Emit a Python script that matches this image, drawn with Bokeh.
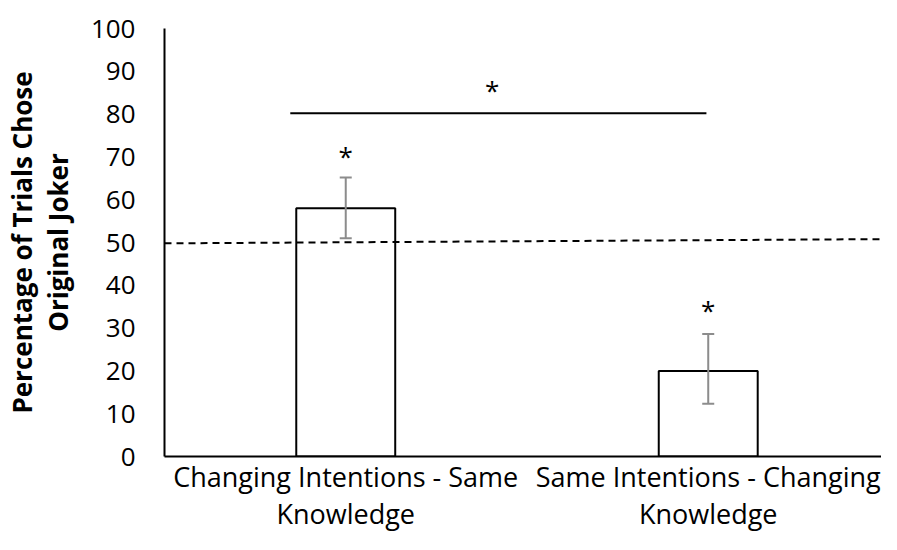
from bokeh.plotting import figure
from bokeh.models import Range1d, FixedTicker, Whisker, ColumnDataSource, TeeHead
from bokeh.core.properties import value
from bokeh.embed import file_html
from bokeh.resources import INLINE

# ---- data ----
categories = ["Changing Intentions - Same\nKnowledge", "Same Intentions - Changing\nKnowledge"]
cat_x = [0.5, 1.5]
values = [58, 20]
err_upper = [65.2, 28.6]
err_lower = [51.0, 12.3]
star_x = [0.5, 1.5, 0.904]
star_y = [70.2, 34.2, 85.7]
sig_x = [0.347, 1.495]
sig_y = [80.2, 80.2]
chance_x = [0, 2]
chance_y = [49.8, 50.8]
y_ticks = list(range(0, 101, 10))

FONT = "Open Sans"

p = figure(width=881, height=534, output_backend="svg", toolbar_location=None,
           x_range=Range1d(0, 1.978), y_range=Range1d(0, 100),
           min_border_left=157, min_border_right=0, min_border_top=28, min_border_bottom=70)
p.outline_line_color = None
p.xgrid.grid_line_color = None
p.ygrid.grid_line_color = None

# bars
p.vbar(x=cat_x, top=values, bottom=0, width=0.273, fill_color="white",
       line_color="black", line_width=2)

# error bars
src = ColumnDataSource(dict(x=cat_x, upper=err_upper, lower=err_lower))
w = Whisker(base="x", upper="upper", lower="lower", source=src, dimension="height",
            line_color="#8c8c8c", line_width=2, level="overlay",
            upper_head=TeeHead(size=12, line_color="#8c8c8c", line_width=2),
            lower_head=TeeHead(size=12, line_color="#8c8c8c", line_width=2))
p.add_layout(w)

# chance line
p.line(chance_x, chance_y, line_color="black", line_width=2, line_dash="7 5")

# significance line
p.line(sig_x, sig_y, line_color="black", line_width=2)

# asterisks
p.text(x=star_x, y=star_y, text=["*"] * len(star_x), text_align="center",
       text_baseline="middle", text_font=value(FONT), text_font_size="26px",
       text_color="black")

# axes
p.xaxis.ticker = FixedTicker(ticks=cat_x)
p.xaxis.major_label_overrides = {cx: c for cx, c in zip(cat_x, categories)}
p.xaxis.major_label_text_font = FONT
p.xaxis.major_label_text_font_size = "27px"
p.xaxis.major_label_text_line_height = 1.0
p.xaxis.major_label_text_color = "black"
p.xaxis.major_label_standoff = 1
p.xaxis.major_tick_line_color = None
p.xaxis.major_tick_out = 0
p.xaxis.major_tick_in = 0
p.xaxis.minor_tick_line_color = None
p.xaxis.axis_line_color = "black"
p.xaxis.axis_line_width = 2

p.yaxis.ticker = FixedTicker(ticks=y_ticks)
p.yaxis.major_label_text_font = FONT
p.yaxis.major_label_text_font_size = "26px"
p.yaxis.major_label_text_color = "black"
p.yaxis.major_label_standoff = 29
p.yaxis.major_tick_line_color = None
p.yaxis.major_tick_out = 0
p.yaxis.major_tick_in = 0
p.yaxis.minor_tick_line_color = None
p.yaxis.axis_line_color = "black"
p.yaxis.axis_line_width = 2
p.yaxis.axis_label = "Percentage of Trials Chose\nOriginal Joker"
p.yaxis.axis_label_text_font = FONT
p.yaxis.axis_label_text_font_style = "bold"
p.yaxis.axis_label_text_font_size = "26px"
p.yaxis.axis_label_text_line_height = 1.0
p.yaxis.axis_label_text_color = "black"
p.yaxis.axis_label_standoff = 12

open("out.html", "w").write(file_html(p, INLINE))
